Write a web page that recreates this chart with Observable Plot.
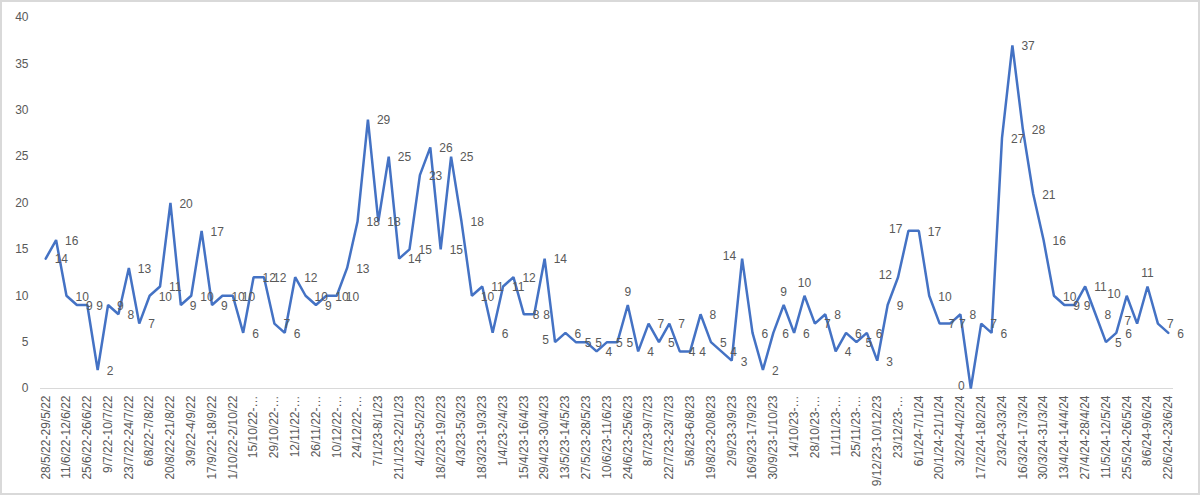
<!DOCTYPE html>
<html>
<head>
<meta charset="utf-8">
<script src="https://cdn.jsdelivr.net/npm/d3@7"></script>
<script src="https://cdn.jsdelivr.net/npm/@observablehq/plot@0.6"></script>
<style>
  html, body { margin: 0; padding: 0; background: #fff; }
  #chart svg { display: block; outline: 2px solid #d9d9d9; outline-offset: -2px; }
</style>
</head>
<body>
<div id="chart"></div>
<script>
// Weekly counts, 28/5/22 – 23/6/24 (one value per week)
const values = [
  14, 16, 10, 9, 9, 2, 9, 8, 13, 7,
  10, 11, 20, 9, 10, 17, 9, 10, 10, 6,
  12, 12, 7, 6, 12, 10, 9, 10, 10, 13,
  18, 29, 18, 25, 14, 15, 23, 26, 15, 25,
  18, 10, 11, 6, 11, 12, 8, 8, 14, 5,
  6, 5, 5, 4, 5, 5, 9, 4, 7, 5,
  7, 4, 4, 8, 5, 4, 3, 14, 6, 2,
  6, 9, 6, 10, 7, 8, 4, 6, 5, 6,
  3, 9, 12, 17, 17, 10, 7, 7, 8, 0,
  7, 6, 27, 37, 28, 21, 16, 10, 9, 9,
  11, 8, 5, 6, 10, 7, 11, 7, 6
];

// Axis labels shown for every second week
const tickLabels = [
  "28/5/22-29/5/22", "11/6/22-12/6/22", "25/6/22-26/6/22", "9/7/22-10/7/22",
  "23/7/22-24/7/22", "6/8/22-7/8/22", "20/8/22-21/8/22", "3/9/22-4/9/22",
  "17/9/22-18/9/22", "1/10/22-2/10/22", "15/10/22-…", "29/10/22-…",
  "12/11/22-…", "26/11/22-…", "10/12/22-…", "24/12/22-…",
  "7/1/23-8/1/23", "21/1/23-22/1/23", "4/2/23-5/2/23", "18/2/23-19/2/23",
  "4/3/23-5/3/23", "18/3/23-19/3/23", "1/4/23-2/4/23", "15/4/23-16/4/23",
  "29/4/23-30/4/23", "13/5/23-14/5/23", "27/5/23-28/5/23", "10/6/23-11/6/23",
  "24/6/23-25/6/23", "8/7/23-9/7/23", "22/7/23-23/7/23", "5/8/23-6/8/23",
  "19/8/23-20/8/23", "2/9/23-3/9/23", "16/9/23-17/9/23", "30/9/23-1/10/23",
  "14/10/23-…", "28/10/23-…", "11/11/23-…", "25/11/23-…",
  "9/12/23-10/12/23", "23/12/23-…", "6/1/24-7/1/24", "20/1/24-21/1/24",
  "3/2/24-4/2/24", "17/2/24-18/2/24", "2/3/24-3/3/24", "16/3/24-17/3/24",
  "30/3/24-31/3/24", "13/4/24-14/4/24", "27/4/24-28/4/24", "11/5/24-12/5/24",
  "25/5/24-26/5/24", "8/6/24-9/6/24", "22/6/24-23/6/24"
];

const yTicks = [0, 5, 10, 15, 20, 25, 30, 35, 40];

// ---- build ----
const weeks = d3.range(values.length);
const data = weeks.map(i => ({week: i, value: values[i]}));

// label placement (Excel moved a few data labels)
const placeLeft = new Set([49, 67, 82, 83, 89, 104, 105]);
const placeAbove = new Set([56, 71, 73, 106]);
const place = i => placeLeft.has(i) ? "left" : placeAbove.has(i) ? "above" : "right";

const textColor = "#595959";

const chart = Plot.plot({
  width: 1200,
  height: 495,
  marginTop: 17,
  marginBottom: 107,
  marginLeft: 40,
  marginRight: 27,
  style: {fontFamily: "'Liberation Sans', Arial, sans-serif", fontSize: "12px", color: textColor, background: "#fff"},
  x: {type: "point", domain: weeks, padding: 0.5},
  y: {domain: [0, 40]},
  marks: [
    Plot.ruleY([0], {stroke: "#d9d9d9", strokeWidth: 1}),
    Plot.axisY({ticks: yTicks, tickSize: 0, tickPadding: 12, label: null, fill: textColor, fontSize: 12}),
    Plot.axisX({
      ticks: weeks.filter(i => i % 2 === 0),
      tickFormat: i => tickLabels[i / 2],
      tickRotate: -90, tickSize: 0, tickPadding: 7,
      label: null, fill: textColor, fontSize: 12
    }),
    Plot.line(data, {x: "week", y: "value", stroke: "#4472C4", strokeWidth: 2.5, strokeLinejoin: "miter"}),
    Plot.text(data.filter(d => place(d.week) === "right"), {
      x: "week", y: "value", text: d => String(d.value),
      textAnchor: "start", dx: 9, dy: 1, fill: textColor, fontSize: 12
    }),
    Plot.text(data.filter(d => place(d.week) === "left"), {
      x: "week", y: "value", text: d => String(d.value),
      textAnchor: "end", dx: -6, dy: -2, fill: textColor, fontSize: 12
    }),
    Plot.text(data.filter(d => place(d.week) === "above"), {
      x: "week", y: "value", text: d => String(d.value),
      textAnchor: "middle", dy: -13, fill: textColor, fontSize: 12
    })
  ]
});

document.getElementById("chart").appendChild(chart);
</script>
</body>
</html>
